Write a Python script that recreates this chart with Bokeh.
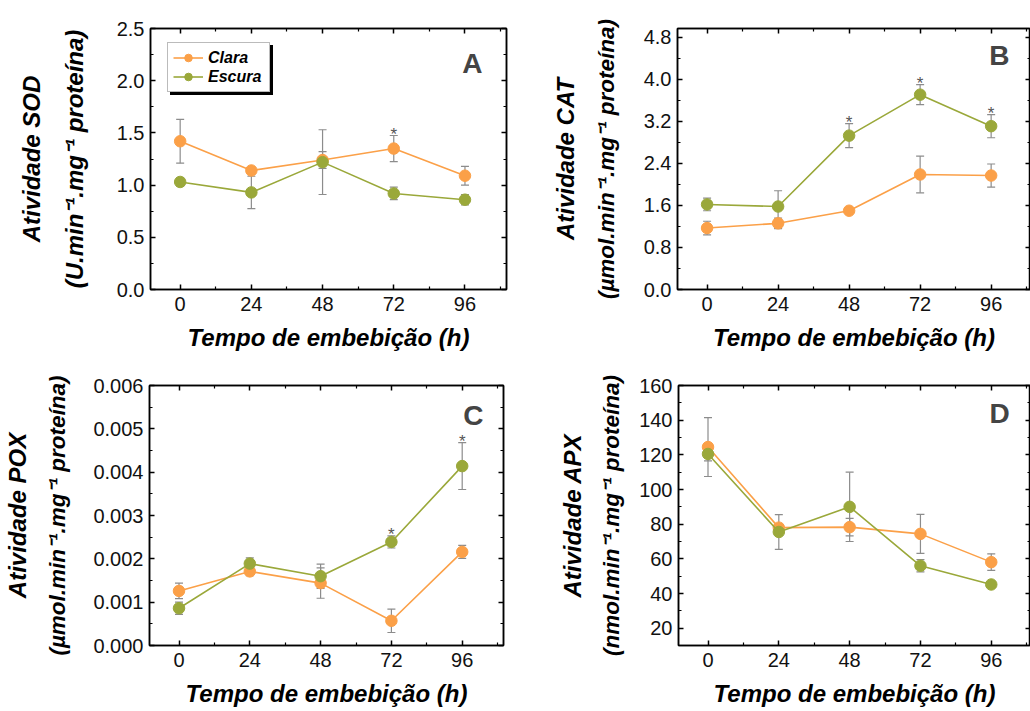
from bokeh.plotting import figure
from bokeh.models import (ColumnDataSource, Whisker, TeeHead, LinearAxis, FixedTicker,
                          SingleIntervalTicker, PrintfTickFormatter, Range1d, Legend,
                          LegendItem, Label, CustomJSTickFormatter)
from bokeh.layouts import column, row
from bokeh.embed import file_html
from bokeh.resources import INLINE
from bokeh.core.properties import value

# ---------------- data ----------------
hours = [0, 24, 48, 72, 96]
hour_minor = [12, 36, 60, 84, 108]
x_title = "Tempo de embebição (h)"
series_names = ["Clara", "Escura"]

sod_clara = [1.42, 1.14, 1.24, 1.35, 1.09]
sod_clara_err = [0.21, 0.03, 0.08, 0.125, 0.09]
sod_escura = [1.03, 0.93, 1.22, 0.92, 0.86]
sod_escura_err = [0.04, 0.155, 0.31, 0.06, 0.05]
sod_star_clara = [72]
sod_star_escura = []

cat_clara = [1.17, 1.26, 1.50, 2.19, 2.17]
cat_clara_err = [0.13, 0.10, 0.04, 0.35, 0.22]
cat_escura = [1.62, 1.58, 2.93, 3.71, 3.11]
cat_escura_err = [0.12, 0.30, 0.23, 0.19, 0.22]
cat_star_clara = []
cat_star_escura = [48, 72, 96]

pox_clara = [0.00126, 0.00171, 0.00144, 0.00057, 0.00216]
pox_clara_err = [0.00018, 0.00010, 0.00035, 0.00027, 0.00015]
pox_escura = [0.00086, 0.00189, 0.00160, 0.00239, 0.00414]
pox_escura_err = [0.00014, 0.00013, 0.00028, 0.00014, 0.00054]
pox_star_clara = []
pox_star_escura = [72, 96]

apx_clara = [124.5, 78.0, 78.3, 74.4, 58.1]
apx_clara_err = [17.0, 2.0, 5.0, 11.3, 4.8]
apx_escura = [120.5, 75.5, 90.0, 56.0, 45.2]
apx_escura_err = [4.0, 10.0, 20.0, 3.5, 1.5]
apx_star_clara = []
apx_star_escura = []

ORANGE = "#FBA048"
GREEN = "#9AA83A"
ERR = "#8c8c8c"
STAR = "#555555"
FONT = "Liberation Sans"


def style_axis(ax, labels=True):
    ax.major_tick_in = 5
    ax.major_tick_out = 0
    ax.minor_tick_in = 3
    ax.minor_tick_out = 0
    ax.axis_line_width = 1.5
    ax.axis_line_color = "black"
    ax.major_tick_line_width = 1.5
    ax.minor_tick_line_width = 1.2
    ax.major_label_text_font = FONT
    ax.major_label_text_font_size = "20px"
    ax.major_label_text_color = "#111111"
    ax.axis_label_text_font = FONT
    ax.axis_label_text_font_size = "24px"
    ax.axis_label_text_font_style = "bold italic"
    ax.axis_label_text_color = "black"
    if not labels:
        ax.formatter = CustomJSTickFormatter(code="return ''")
        ax.major_label_text_font_size = "0px"
        ax.major_label_standoff = 0


def panel(width, height, mb, xend, yr, yint, yfmt, title1, title2, t2size, lab_stand, lab2_stand,
          clara, clara_err, escura, escura_err, star_c, star_e, letter, lpos, legend=False):
    p = figure(width=width, height=height, output_backend="svg", toolbar_location=None,
               x_range=Range1d(-10, xend), y_range=Range1d(*yr),
               min_border_left=mb[0], min_border_right=mb[1],
               min_border_top=mb[2], min_border_bottom=mb[3])
    p.grid.visible = False
    p.outline_line_color = "black"
    p.outline_line_width = 1.5
    p.background_fill_color = "white"
    p.border_fill_color = "white"

    xt = FixedTicker(ticks=hours, minor_ticks=hour_minor)
    yt = SingleIntervalTicker(interval=yint, num_minor_ticks=2)
    p.xaxis.ticker = xt
    p.yaxis.ticker = yt
    p.yaxis.formatter = PrintfTickFormatter(format=yfmt)
    for ax in p.xaxis:
        style_axis(ax)
        ax.major_label_standoff = 7
        ax.axis_label = x_title
        ax.axis_label_standoff = 10
    for ax in p.yaxis:
        style_axis(ax)
        ax.major_label_standoff = 6
        ax.axis_label = title2
        ax.axis_label_text_font_size = t2size
        ax.axis_label_standoff = lab_stand

    outer = LinearAxis(ticker=FixedTicker(ticks=[]), axis_label=title1)
    style_axis(outer, labels=False)
    outer.axis_line_color = None
    outer.major_tick_line_color = None
    outer.minor_tick_line_color = None
    outer.axis_label_standoff = lab2_stand
    p.add_layout(outer, "left")

    top = LinearAxis(ticker=xt)
    style_axis(top, labels=False)
    p.add_layout(top, "above")
    right = LinearAxis(ticker=yt)
    style_axis(right, labels=False)
    p.add_layout(right, "right")

    items, shadow_items = [], []
    for name, vals, errs, col, stars in ((series_names[0], clara, clara_err, ORANGE, star_c),
                                         (series_names[1], escura, escura_err, GREEN, star_e)):
        src = ColumnDataSource(dict(x=hours, y=vals,
                                    lo=[v - e for v, e in zip(vals, errs)],
                                    hi=[v + e for v, e in zip(vals, errs)]))
        r1 = p.line("x", "y", source=src, line_color=col, line_width=1.6)
        r2 = p.scatter("x", "y", source=src, size=11.5, fill_color=col, line_color=col)
        w = Whisker(base="x", lower="lo", upper="hi", source=src, line_color=ERR, line_width=1.2,
                    upper_head=TeeHead(size=8, line_color=ERR, line_width=1.2),
                    lower_head=TeeHead(size=8, line_color=ERR, line_width=1.2))
        p.add_layout(w)
        items.append(LegendItem(label=name, renderers=[r1, r2]))
        shadow_items.append(LegendItem(label=" ", renderers=[r1, r2]))
        if stars:
            sy = [vals[hours.index(h)] + errs[hours.index(h)] for h in stars]
            p.text(x=stars, y=sy, text=["*"] * len(stars), text_font=value(FONT),
                   text_font_size="17px", text_color=STAR, text_align="center",
                   text_baseline="alphabetic", y_offset=-1)

    x0, x1 = -10, xend
    p.add_layout(Label(x=x0 + lpos[0] * (x1 - x0), y=yr[0] + lpos[1] * (yr[1] - yr[0]),
                       text=letter, text_font=FONT, text_font_size="28px",
                       text_font_style="bold", text_align="center", text_baseline="middle"))

    if legend:
        common = dict(label_text_font=FONT, label_text_font_size="16px",
                      label_text_font_style="bold italic", glyph_width=30, glyph_height=19,
                      label_height=19, label_width=56, label_standoff=5, spacing=0,
                      padding=5, margin=0, border_line_width=1)
        shadow = Legend(items=shadow_items, location=(20, 194), background_fill_color="black",
                        background_fill_alpha=1.0, border_line_color="black",
                        label_text_color="black", **common)
        main = Legend(items=items, location=(17, 197), background_fill_color="white",
                      background_fill_alpha=1.0, border_line_color="#777777",
                      label_text_color="black", **common)
        p.add_layout(shadow, "center")
        p.add_layout(main, "center")
    return p


pA = panel(515, 360, (150, 9, 26, 71), 110, (0, 2.5), 0.5, "%.1f",
           "Atividade SOD", "(U.min⁻¹.mg⁻¹ proteína)", "24px", 26, 13,
           sod_clara, sod_clara_err, sod_escura, sod_escura_err,
           sod_star_clara, sod_star_escura, "A", (0.904, 0.864), legend=True)
pB = panel(515, 360, (162, 0, 28, 71), 109.3, (0, 4.97), 0.8, "%.1f",
           "Atividade CAT", "(µmol.min⁻¹.mg⁻¹ proteína)", "22.5px", 22, 12,
           cat_clara, cat_clara_err, cat_escura, cat_escura_err,
           cat_star_clara, cat_star_escura, "B", (0.912, 0.897))
pC = panel(515, 351, (148, 12, 23, 66), 110, (0, 0.006), 0.001, "%.3f",
           "Atividade POX", "(µmol.min⁻¹.mg⁻¹ proteína)", "22.5px", 20, 12,
           pox_clara, pox_clara_err, pox_escura, pox_escura_err,
           pox_star_clara, pox_star_escura, "C", (0.915, 0.885))
pD = panel(515, 351, (163, 0, 25, 66), 109.3, (10, 160), 20, "%d",
           "Atividade APX", "(nmol.min⁻¹.mg⁻¹ proteína)", "22.5px", 12, 11,
           apx_clara, apx_clara_err, apx_escura, apx_escura_err,
           apx_star_clara, apx_star_escura, "D", (0.912, 0.892))

layout = column(row(pA, pB), row(pC, pD))
open("out.html", "w").write(file_html(layout, INLINE))
